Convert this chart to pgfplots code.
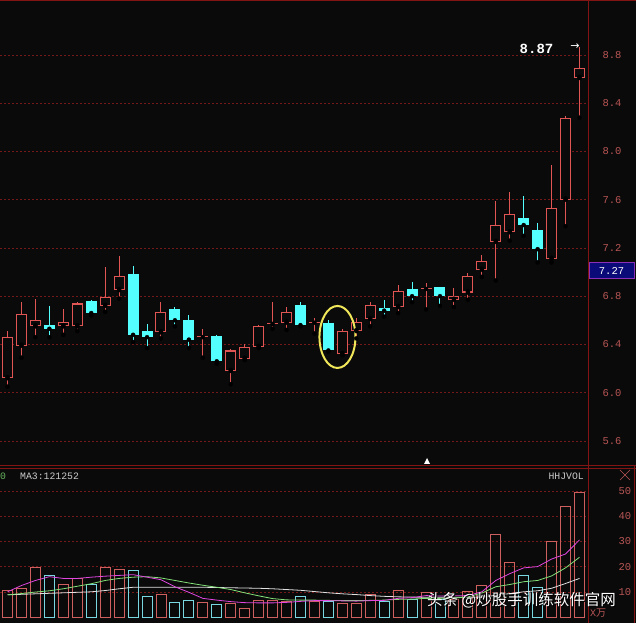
\documentclass[border=0pt]{standalone}
\usepackage{pgfplots}
\pgfplotsset{compat=1.18}
\usepackage{pgfplotstable}
\usepackage{fontspec}
\setmainfont{Liberation Sans}
\setmonofont{Liberation Mono}
\newfontfamily\symfont{DejaVu Sans}
\newfontfamily\cjk{Noto Sans CJK SC}

\definecolor{bg}{RGB}{10,10,10}
\definecolor{frame}{RGB}{130,20,20}
\definecolor{gridred}{RGB}{115,25,25}
\definecolor{upred}{RGB}{225,85,85}
\definecolor{dncyan}{RGB}{84,255,255}
\definecolor{vred}{RGB}{205,95,95}
\definecolor{vcyan}{RGB}{120,215,225}
\definecolor{lblred}{RGB}{185,85,85}
\definecolor{ma5}{RGB}{225,70,225}
\definecolor{ma10}{RGB}{130,225,120}
\definecolor{ma20}{RGB}{225,225,225}
\definecolor{boxblue}{RGB}{10,10,120}
\definecolor{ring}{RGB}{240,230,90}

% t: 1 = up (hollow red), -1 = down (cyan), 0 = doji (red cross)
% v: volume (x10k); m5/m10/m20: moving averages
\pgfplotstableread{
i  o    h    l    c    t  v    m5   m10  m20
0  6.12 6.51 6.05 6.46 1  10.7 10.0 8.8  8.8
1  6.39 6.75 6.29 6.65 1  11.4 12.5 9.3  9.0
2  6.55 6.78 6.46 6.60 1  19.6 14.5 9.9  9.2
3  6.56 6.72 6.46 6.53 -1 16.3 16.0 10.4 9.4
4  6.55 6.69 6.48 6.59 1  13.1 15.3 11.2 9.6
5  6.55 6.75 6.51 6.74 1  15.3 15.3 12.2 9.8
6  6.76 6.77 6.64 6.66 -1 13.1 15.8 13.2 10.0
7  6.72 7.04 6.67 6.79 1  19.6 16.2 14.5 10.5
8  6.85 7.13 6.78 6.97 1  19.0 16.5 15.3 11.2
9  6.98 7.05 6.42 6.48 -1 18.4 16.8 15.8 11.8
10 6.51 6.57 6.37 6.46 -1 8.3  15.8 16.0 11.8
11 6.50 6.75 6.45 6.67 1  9.1  14.8 15.5 11.8
12 6.69 6.71 6.55 6.60 -1 5.7  12.0 14.5 11.8
13 6.60 6.64 6.37 6.44 -1 6.7  9.8  13.5 11.8
14 6.46 6.53 6.29 6.47 0  5.8  7.4  12.6 11.8
15 6.47 6.48 6.24 6.26 -1 4.8  6.7  11.8 11.7
16 6.18 6.36 6.07 6.35 1  5.2  6.1  10.9 11.6
17 6.28 6.40 6.27 6.38 1  3.2  5.7  9.6  11.5
18 6.38 6.56 6.37 6.55 1  6.7  5.6  8.4  11.4
19 6.57 6.75 6.53 6.58 0  6.7  5.6  7.3  11.2
20 6.58 6.71 6.52 6.67 1  6.1  5.8  6.8  10.9
21 6.73 6.75 6.55 6.56 -1 8.1  6.2  6.7  10.6
22 6.58 6.62 6.49 6.59 0  6.0  6.5  6.7  10.1
23 6.58 6.60 6.34 6.35 -1 6.1  6.5  6.6  9.6
24 6.32 6.53 6.31 6.51 1  5.2  6.4  6.5  9.2
25 6.51 6.62 6.45 6.59 1  5.2  6.3  6.5  8.9
26 6.61 6.75 6.55 6.73 1  9.1  6.5  6.6  8.5
27 6.70 6.77 6.63 6.68 -1 6.1  6.6  6.7  8.2
28 6.71 6.89 6.66 6.84 1  10.4 7.4  7.0  8.0
29 6.86 6.92 6.75 6.80 -1 7.0  7.7  7.1  7.9
30 6.86 6.91 6.69 6.87 0  9.8  8.5  7.4  7.8
31 6.88 6.88 6.72 6.80 -1 7.0  8.3  7.4  7.8
32 6.77 6.87 6.71 6.80 1  7.0  8.4  7.5  7.8
33 6.83 6.99 6.77 6.97 1  10.3 8.5  8.0  7.8
34 7.02 7.14 6.96 7.09 1  12.7 10.0 9.5  7.9
35 7.25 7.59 6.93 7.39 1  32.9 14.5 12.0 8.6
36 7.33 7.66 7.26 7.48 1  21.7 17.2 12.9 9.3
37 7.45 7.63 7.30 7.39 -1 16.3 19.5 14.0 10.0
38 7.35 7.41 7.08 7.19 -1 11.6 20.0 14.5 10.4
39 7.11 7.89 7.08 7.53 1  29.9 23.0 16.3 11.4
40 7.60 8.29 7.38 8.28 1  44.0 25.0 19.5 13.3
41 8.61 8.87 8.28 8.69 1  49.6 30.6 23.7 15.3
}\kdata

\pgfplotsset{
  panel/.style={
    scale only axis, width=588pt,
    xmin=-0.54, xmax=41.61,
    axis line style={draw=none},
    xtick=\empty, major tick length=0pt,
    yticklabel pos=right,
    ymajorgrids, grid style={gridred, dash pattern=on 2pt off 2pt, line width=0.6pt},
    /pgf/number format/assume math mode=true,
    clip=true,
  },
}

\begin{document}
\begin{tikzpicture}
\path[use as bounding box] (0,0) rectangle (636pt,623pt);
\fill[bg] (0,0) rectangle (636pt,623pt);

% ---------- price panel ----------
\begin{axis}[panel,
  at={(0pt,157pt)}, anchor=south west, height=466pt,
  ymin=5.392, ymax=9.256,
  ytick={5.6,6.0,6.4,6.8,7.2,7.6,8.0,8.4,8.8},
  yticklabel style={font=\ttfamily\fontsize{10.5}{12}\selectfont, text=lblred, xshift=11pt},
  /pgf/number format/fixed, /pgf/number format/fixed zerofill, /pgf/number format/precision=1,
]
% wicks
\addplot[restrict expr to domain={\thisrow{t}}{-0.5:1.5}, only marks, mark=none,
  error bars/.cd, y dir=plus, y explicit, error mark=none,
  error bar style={line width=1pt, draw=upred}]
  table[x=i, y=l, y error expr=\thisrow{h}-\thisrow{l}] {\kdata};
\addplot[restrict expr to domain={\thisrow{t}}{-1.5:-0.5}, only marks, mark=none,
  error bars/.cd, y dir=plus, y explicit, error mark=none,
  error bar style={line width=1pt, draw=dncyan}]
  table[x=i, y=l, y error expr=\thisrow{h}-\thisrow{l}] {\kdata};
% up and doji bodies
\addplot[restrict expr to domain={\thisrow{t}}{-0.5:1.5}, only marks, mark=none,
  error bars/.cd, y dir=plus, y explicit, error mark=none,
  error bar style={line width=11pt, draw=upred}]
  table[x=i, y=o, y error expr=\thisrow{c}-\thisrow{o}] {\kdata};
\addplot[restrict expr to domain={\thisrow{t}}{0.5:1.5}, only marks, mark=none,
  error bars/.cd, y dir=plus, y explicit, error mark=none,
  error bar style={line width=9pt, draw=bg}]
  table[x=i, y expr=\thisrow{o}+0.009, y error expr=\thisrow{c}-\thisrow{o}-0.018] {\kdata};
% down bodies
\addplot[restrict expr to domain={\thisrow{t}}{-1.5:-0.5}, only marks, mark=none,
  error bars/.cd, y dir=plus, y explicit, error mark=none,
  error bar style={line width=11pt, draw=dncyan}]
  table[x=i, y=c, y error expr=\thisrow{o}-\thisrow{c}] {\kdata};

\draw[ring, line width=2pt] (axis cs:23.65,6.462) ellipse [x radius=18pt, y radius=31pt];
\end{axis}

% ---------- volume panel ----------
\begin{axis}[panel,
  at={(0pt,0pt)}, anchor=south west, height=156pt,
  ymin=-2.38, ymax=59.52,
  ytick={10,20,30,40,50},
  yticklabel style={font=\ttfamily\fontsize{10.5}{12}\selectfont, text=lblred, xshift=27pt},
]
\addplot[ybar, bar width=10pt, bar shift=0pt, draw=vred, fill=none, line width=0.9pt,
  restrict expr to domain={\thisrow{t}}{-0.5:1.5}] table[x=i, y=v] {\kdata};
\addplot[ybar, bar width=10pt, bar shift=0pt, draw=vcyan, fill=none, line width=0.9pt,
  restrict expr to domain={\thisrow{t}}{-1.5:-0.5}] table[x=i, y=v] {\kdata};
\addplot[ma20, line width=0.8pt, mark=none] table[x=i, y=m20] {\kdata};
\addplot[ma10, line width=0.8pt, mark=none] table[x=i, y=m10] {\kdata};
\addplot[ma5, line width=0.8pt, mark=none] table[x=i, y=m5] {\kdata};
\end{axis}

% ---------- frame and labels ----------
\draw[frame, line width=1pt] (0pt,622.5pt) -- (636pt,622.5pt);
\draw[frame, line width=1pt] (588pt,0pt) -- (588pt,623pt);
\draw[frame, line width=0.8pt] (0pt,157.5pt) -- (636pt,157.5pt);
\draw[frame, line width=0.8pt] (0pt,155pt) -- (636pt,155pt);
\draw[frame, line width=1pt] (634pt,0pt) -- (634pt,157.5pt);

\node[font=\ttfamily\bfseries\fontsize{14}{14}\selectfont, text=white] at (536.5pt,574pt) {8.87};
\node[font=\symfont\fontsize{11}{11}\selectfont, text=white] at (575pt,576pt) {→};
\node[fill=boxblue, draw=ma5!60!boxblue, line width=0.6pt, minimum width=45pt, minimum height=16pt,
  inner sep=0pt, text=white, font=\ttfamily\fontsize{10.5}{12}\selectfont] at (611.5pt,352.5pt) {7.27};
\fill[white] (424pt,159pt) -- (430pt,159pt) -- (427pt,165pt) -- cycle;

\node[anchor=west, inner sep=0pt, text=ma10!80!black, font=\ttfamily\fontsize{9.8}{10}\selectfont] at (0pt,147pt) {0};
\node[anchor=west, inner sep=0pt, text=ma20!90!black, font=\ttfamily\fontsize{9.8}{10}\selectfont] at (20pt,147pt) {MA3:121252};
\node[anchor=east, inner sep=0pt, text=ma20!90!black, font=\ttfamily\fontsize{9.8}{10}\selectfont] at (584pt,147pt) {HHJVOL};
\node[anchor=west, inner sep=0pt, text=lblred, font=\ttfamily\fontsize{10}{10}\selectfont] at (590pt,10pt) {X\cjk 万};
\draw[lblred, line width=0.6pt] (620pt,143pt) -- (630pt,153pt) (620pt,153pt) -- (630pt,143pt);

\node[anchor=east, inner sep=0pt, text=black, font=\cjk\fontsize{15.5}{15.5}\selectfont] at (617pt,21.5pt) {头条 @炒股手训练软件官网};
\node[anchor=east, inner sep=0pt, text=white, font=\cjk\fontsize{15.5}{15.5}\selectfont] at (616pt,22.5pt) {头条 @炒股手训练软件官网};
\end{tikzpicture}
\end{document}
